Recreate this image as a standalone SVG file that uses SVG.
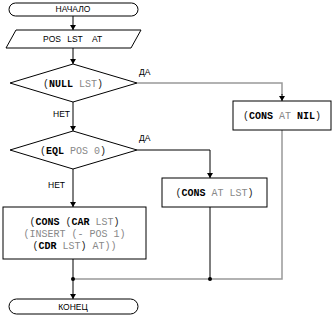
<svg xmlns="http://www.w3.org/2000/svg" width="334" height="317" viewBox="0 0 334 317">
<style>
.sh{fill:#fff;stroke:#000;stroke-width:1}
.sans{font-family:"Liberation Sans",Arial,sans-serif;font-size:8.5px;fill:#000}
.mono{font-family:"Liberation Mono","Courier New",monospace;font-size:10px;fill:#888}
.k{font-weight:bold;fill:#000}
.p{fill:#222}
.ln{fill:none;stroke:#000;stroke-width:1}
.gl{fill:none;stroke:#999;stroke-width:1.5}
</style>
<defs>
<marker id="ar" markerWidth="6" markerHeight="6" refX="5" refY="3" orient="auto" markerUnits="userSpaceOnUse">
<path d="M0,0 L5,3 L0,6 Z" fill="#000"/>
</marker>
</defs>
<g id="connectors">
<path class="ln" d="M73,16 V30" marker-end="url(#ar)"/>
<path class="ln" d="M73,48 V64" marker-end="url(#ar)"/>
<path class="gl" d="M137,83 H282 V95"/>
<path class="ln" d="M282,94 V101" marker-end="url(#ar)"/>
<path class="ln" d="M73,102 V131" marker-end="url(#ar)"/>
<path class="ln" d="M137,150 H210 V178" marker-end="url(#ar)"/>
<path class="ln" d="M73,169 V207" marker-end="url(#ar)"/>
<path class="gl" d="M282,130 V279 H73"/>
<path class="ln" d="M210,207 V279" stroke="#555"/>
<path class="ln" d="M73,259 V299" marker-end="url(#ar)"/>
<circle cx="210" cy="279" r="2" fill="#000"/>
<circle cx="73" cy="279" r="2" fill="#000"/>
<text class="sans" x="139" y="75">ДА</text>
<text class="sans" x="53" y="117">НЕТ</text>
<text class="sans" x="139" y="141">ДА</text>
<text class="sans" x="48" y="188">НЕТ</text>
</g>
<g id="start">
<rect class="sh" x="9" y="3" width="129" height="13" rx="6.5"/>
<text class="sans" x="73" y="11.8" text-anchor="middle">НАЧАЛО</text>
</g>
<g id="input">
<polygon class="sh" points="16,30 141,30 131,48 6,48"/>
<text class="sans" x="52" y="42.3" text-anchor="middle">POS</text>
<text class="sans" x="75" y="42.3" text-anchor="middle">LST</text>
<text class="sans" x="97" y="42.3" text-anchor="middle">AT</text>
</g>
<g id="cond1">
<polygon class="sh" points="73,64 137,83 73,102 10,83"/>
<text class="mono" x="73" y="86.5" text-anchor="middle"><tspan class="p">(</tspan><tspan class="k">NULL</tspan> LST<tspan class="p">)</tspan></text>
</g>
<g id="nil">
<rect class="sh" x="233" y="101" width="98" height="29"/>
<text class="mono" x="282" y="119" text-anchor="middle"><tspan class="p">(</tspan><tspan class="k">CONS</tspan> AT <tspan class="k">NIL</tspan><tspan class="p">)</tspan></text>
</g>
<g id="cond2">
<polygon class="sh" points="73,131 137,150 73,169 10,150"/>
<text class="mono" x="73" y="153.5" text-anchor="middle"><tspan class="p">(</tspan><tspan class="k">EQL</tspan> POS 0<tspan class="p">)</tspan></text>
</g>
<g id="cons">
<rect class="sh" x="162" y="178" width="105" height="29"/>
<text class="mono" x="214.5" y="196" text-anchor="middle"><tspan class="p">(</tspan><tspan class="k">CONS</tspan> AT LST<tspan class="p">)</tspan></text>
</g>
<g id="rec">
<rect class="sh" x="3" y="207" width="143" height="52"/>
<text class="mono" x="74.5" y="225" text-anchor="middle"><tspan class="p">(</tspan><tspan class="k">CONS</tspan> <tspan class="p">(</tspan><tspan class="k">CAR</tspan> LST<tspan class="p">)</tspan></text>
<text class="mono" x="74.5" y="237" text-anchor="middle">(INSERT (- POS 1)</text>
<text class="mono" x="74.5" y="249" text-anchor="middle"><tspan class="p">(</tspan><tspan class="k">CDR</tspan> LST<tspan class="p">)</tspan> AT))</text>
</g>
<g id="end">
<rect class="sh" x="9" y="299" width="129" height="15" rx="7.5"/>
<text class="sans" x="73" y="309.5" text-anchor="middle">КОНЕЦ</text>
</g>
</svg>
